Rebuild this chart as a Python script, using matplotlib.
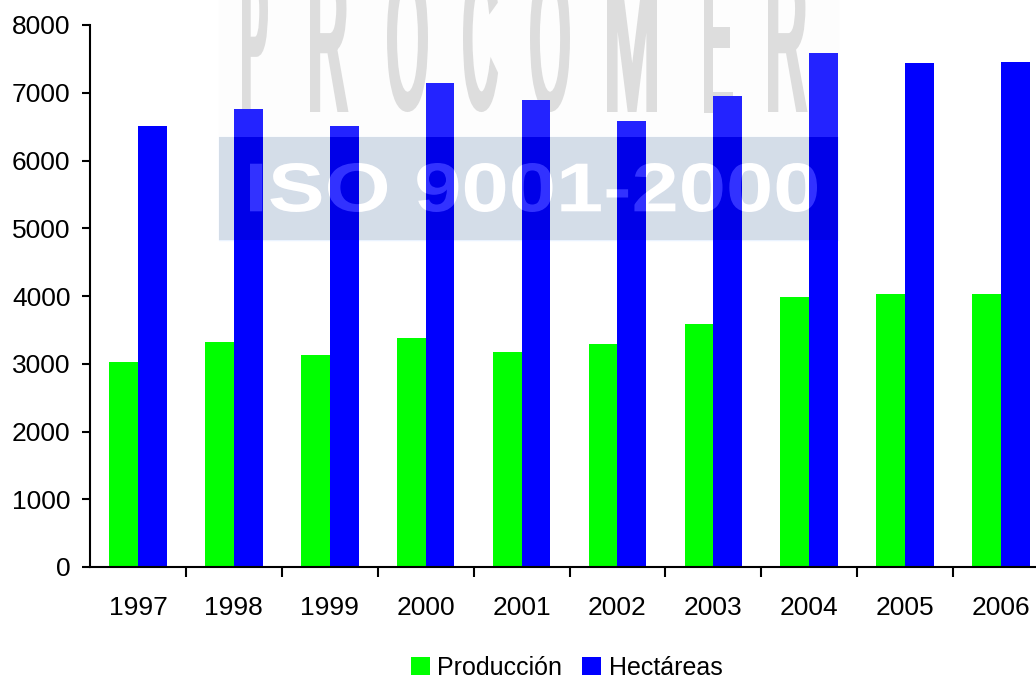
import numpy as np
import matplotlib
matplotlib.use("Agg")
import matplotlib.pyplot as plt
from matplotlib.textpath import TextPath
from matplotlib.font_manager import FontProperties
from matplotlib.patches import PathPatch, Rectangle
from matplotlib.path import Path
from matplotlib.transforms import Affine2D

plt.rcParams['font.family'] = ['Liberation Sans', 'DejaVu Sans']

years = ["1997", "1998", "1999", "2000", "2001", "2002", "2003", "2004", "2005", "2006"]
produccion = [3030, 3320, 3130, 3380, 3170, 3290, 3590, 3980, 4025, 4025]
hectareas = [6510, 6760, 6510, 7140, 6890, 6580, 6950, 7580, 7440, 7450]

W, H = 1036, 681


def text_path_in_box(s, x0, y0, x1, y1, weight="bold"):
    # fit a text outline into a pixel box (top-left origin), return path in figure fraction
    tp = TextPath((0, 0), s, size=100, prop=FontProperties(family="Liberation Sans", weight=weight))
    ext = tp.get_extents()
    sx = (x1 - x0) / ext.width / W
    sy = (y1 - y0) / ext.height / H
    tr = Affine2D().translate(-ext.x0, -ext.y0).scale(sx, sy).translate(x0 / W, 1 - y1 / H)
    return tr.transform_path(tp)


def rect_path(x0, y0, x1, y1):
    # pixel box (top-left origin) -> counter-clockwise path in figure fraction
    l, r, b, t = x0 / W, x1 / W, 1 - y1 / H, 1 - y0 / H
    return Path([(l, b), (r, b), (r, t), (l, t), (l, b)],
                [Path.MOVETO, Path.LINETO, Path.LINETO, Path.LINETO, Path.CLOSEPOLY])


fig = plt.figure(figsize=(W / 100, H / 100), dpi=100)
ax = fig.add_axes([90 / W, 1 - 567 / H, 1 - 90 / W, (567 - 25) / H])
ax.set_facecolor("none")

x = np.arange(len(years))
w = 0.3
ax.bar(x - w / 2, produccion, w, color="#00ff00", label="Producción", zorder=2)
ax.bar(x + w / 2, hectareas, w, color="#0000ff", label="Hectáreas", zorder=2)

ax.set_ylim(0, 8000)
ax.set_yticks(range(0, 8001, 1000))
ax.set_xlim(-0.5, -0.5 + (W - 90) / 95.9)
ax.set_xticks(x)
ax.set_xticklabels(years)
ax.set_xticks(x[:-1] + 0.5, minor=True)

for side in ["top", "right"]:
    ax.spines[side].set_visible(False)
for side in ["left", "bottom"]:
    ax.spines[side].set_linewidth(1.5)

ax.tick_params(axis="y", length=6, width=1.5, pad=8, labelsize=19)
ax.tick_params(axis="x", which="major", length=0, pad=21, labelsize=19)
ax.tick_params(axis="x", which="minor", length=7, width=1.5)

# watermark, behind the bars
fig.add_artist(Rectangle((219 / W, 1 - 137 / H), (838 - 219) / W, 137 / H,
                         transform=fig.transFigure, color="#fdfdfd", zorder=-3))
fig.add_artist(Rectangle((219 / W, 1 - 240 / H), (838 - 219) / W, (240 - 137) / H,
                         transform=fig.transFigure, color="#eaf3ff", zorder=-2))
iso = text_path_in_box("ISO 9001-2000", 250, 163, 817, 212)
fig.add_artist(PathPatch(iso, transform=fig.transFigure, color="white", lw=0, zorder=-1))

letters = ["P", "R", "O", "C", "O", "M", "E", "R"]
letter_x = [(242, 268), (310, 348), (387, 428), (463, 498), (530, 570), (607, 657), (703, 732), (768, 807)]
for ch, (lx0, lx1) in zip(letters, letter_x):
    p = text_path_in_box(ch, lx0 + 2.5, -32, lx1 - 2.5, 109.5, weight="normal")
    fig.add_artist(PathPatch(p, transform=fig.transFigure, color="#d8d8d8", lw=3.6, zorder=-1))

# watermark, on top of the bars
fig.add_artist(Rectangle((219 / W, 1 - 137 / H), (838 - 219) / W, 137 / H,
                         transform=fig.transFigure, color="white", alpha=0.14, lw=0, zorder=3))
shade = Path.make_compound_path(rect_path(219, 137, 838, 240), iso)
fig.add_artist(PathPatch(shade, transform=fig.transFigure, color="black", alpha=0.09, lw=0, zorder=3))
fig.add_artist(PathPatch(iso, transform=fig.transFigure, color="white", alpha=0.2, lw=0, zorder=4))

fig.legend(loc="center", bbox_to_anchor=(0.547, 0.019), ncol=2, frameon=False,
           fontsize=18, handlelength=0.75, handleheight=0.75, handletextpad=0.3,
           columnspacing=0.8, borderaxespad=0)

fig.savefig("out.png", dpi=100, facecolor="white")
